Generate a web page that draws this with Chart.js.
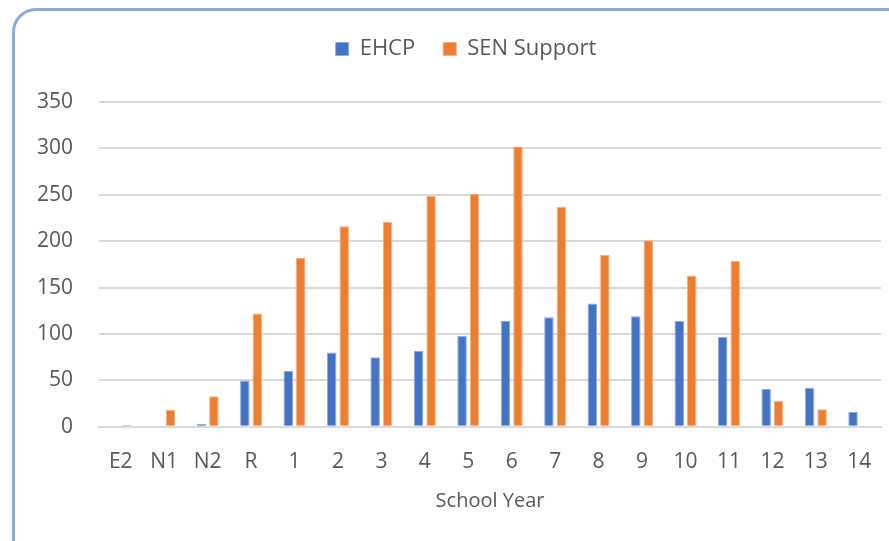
<!DOCTYPE html>
<html>
<head>
<meta charset="utf-8">
<script src="https://cdn.jsdelivr.net/npm/chart.js@4.4.1/dist/chart.umd.min.js"></script>
<style>
  html, body { margin: 0; padding: 0; background: #fff; overflow: hidden; }
  #frame {
    position: absolute; left: 12px; top: 8px; width: 920px; height: 580px;
    border: 3px solid #8eaadb; border-radius: 24px; box-sizing: border-box;
  }
  #wrap { position: absolute; left: 0; top: 0; width: 889px; height: 541px; }
</style>
</head>
<body>
<div id="frame"></div>
<div id="wrap"><canvas id="grafico"></canvas></div>
<script>
const anosEscolares = ['E2', 'N1', 'N2', 'R', '1', '2', '3', '4', '5', '6', '7', '8', '9', '10', '11', '12', '13', '14'];
const valoresEHCP = [0, 0, 3, 50, 60, 80, 75, 82, 98, 114, 118, 133, 119, 114, 97, 41, 42, 16];
const valoresSEN = [2, 18, 33, 122, 182, 216, 221, 249, 251, 302, 237, 185, 201, 163, 179, 28, 19, 0];
const ticksY = [0, 50, 100, 150, 200, 250, 300, 350];

const corTexto = '#595959';
const fonte = "'Open Sans', sans-serif";

const ctx = document.getElementById('grafico').getContext('2d');

new Chart(ctx, {
  type: 'bar',
  data: {
    labels: anosEscolares,
    datasets: [
      {
        label: 'EHCP',
        data: valoresEHCP,
        backgroundColor: '#4472c4',
        borderColor: '#8faadc',
        borderWidth: 1,
        borderSkipped: 'bottom'
      },
      {
        label: 'SEN Support',
        data: valoresSEN,
        backgroundColor: '#ed7d31',
        borderColor: '#f4b183',
        borderWidth: 1,
        borderSkipped: 'bottom'
      }
    ]
  },
  options: {
    responsive: true,
    maintainAspectRatio: false,
    animation: false,
    layout: { padding: { left: 11, right: 8, top: 10, bottom: 24 } },
    categoryPercentage: 0.575,
    barPercentage: 0.76,
    plugins: {
      legend: {
        position: 'top',
        labels: {
          color: corTexto,
          font: { family: fonte, size: 22 },
          boxWidth: 13,
          boxHeight: 13,
          padding: 28
        }
      },
      tooltip: { enabled: false }
    },
    scales: {
      x: {
        grid: { display: false },
        border: { color: '#d9d9d9', width: 2 },
        ticks: {
          color: corTexto,
          font: { family: fonte, size: 21 },
          maxRotation: 0,
          autoSkip: false,
          padding: 14.5
        },
        title: {
          display: true,
          text: 'School Year',
          color: corTexto,
          font: { family: fonte, size: 20 },
          padding: { top: 0 }
        }
      },
      y: {
        min: 0,
        max: 350,
        afterBuildTicks: axis => { axis.ticks = ticksY.map(v => ({ value: v })); },
        grid: { color: '#d9d9d9', lineWidth: 2, drawTicks: false },
        border: { display: false },
        ticks: {
          color: corTexto,
          font: { family: fonte, size: 21 },
          padding: 26
        }
      }
    }
  },
  plugins: [{
    id: 'espacoLegenda',
    beforeInit(chart) {
      const ajustar = chart.legend.fit;
      chart.legend.fit = function () {
        ajustar.bind(chart.legend)();
        this.height += 32;
      };
    },
    afterLayout(chart) {
      // legenda fica um pouco à direita do centro, como no original
      chart.legend.left += 20;
      chart.legend.right += 20;
    }
  }]
});
</script>
</body>
</html>
